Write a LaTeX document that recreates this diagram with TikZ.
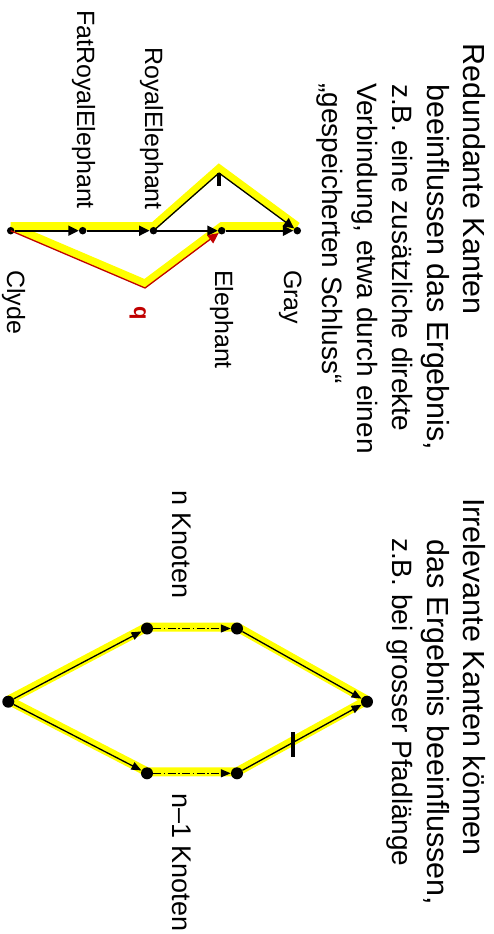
\documentclass[tikz,border=0pt]{standalone}
\usepackage{fontspec}
\setmainfont{Liberation Sans}
\usetikzlibrary{arrows.meta,backgrounds}
\definecolor{hlyellow}{RGB}{255,255,0}
\definecolor{dred}{RGB}{192,0,0}
\begin{document}
\begin{tikzpicture}[x=1pt,y=-1pt,
  txt/.style={rotate=-90, anchor=base west, inner sep=0pt, font=\fontsize{28}{34}\selectfont},
  head/.style={rotate=-90, anchor=base west, inner sep=0pt, font=\fontsize{30.5}{35}\selectfont},
  lbl/.style={rotate=-90, anchor=base west, inner sep=0pt, font=\fontsize{25}{30}\selectfont},
  knlbl/.style={rotate=-90, anchor=base west, inner sep=0pt, font=\fontsize{27}{30}\selectfont},
  sdot/.style={circle, fill=black, inner sep=0pt, minimum size=7.5pt},
  bdot/.style={circle, fill=black, inner sep=0pt, minimum size=12pt},
  arr/.style={-{Triangle[length=10.5pt,width=10pt]}},
  arrs/.style={-{Triangle[length=10pt,width=8pt]}},
  hlt/.style={draw=hlyellow, line width=8pt},
  hltb/.style={draw=hlyellow, line width=9pt},
  thickedge/.style={line width=2pt},
  thinedge/.style={line width=1.3pt},
  tickmark/.style={line width=3.6pt},
  dashdotedge/.style={line width=1.2pt, dash pattern=on 8pt off 2.5pt on 1.5pt off 2.5pt}
]
\useasboundingbox (0,0) rectangle (494,934);

% ---------- left text block ----------
\node[head] (h1) at (463,43) {Redundante Kanten};
\node[head] (h2) at (427,84) {beeinflussen das Ergebnis,};
\node[txt]  (h3) at (392,84) {z.B. eine zusätzliche direkte};
\node[txt]  (h4) at (357,83) {Verbindung, etwa durch einen};
\node[txt]  (h5) at (322,83) {„gespeicherten Schluss“};

% ---------- left graph ----------
\node[sdot] (clyde) at (10.7,230.7) {};
\node[sdot] (fat)   at (82.7,230.7) {};
\node[sdot] (royal) at (153.5,230.7) {};
\node[sdot] (eleph) at (221.7,230.7) {};
\node[sdot] (gray)  at (297.3,230.7) {};
\coordinate (top) at (219,173);
\coordinate (q) at (145,288);

% highlights
\begin{pgfonlayer}{background}
\begin{scope}[transform canvas={yshift=4.5pt}]
  \draw[hlt] (clyde.center) -- (royal.center) -- (top) -- (gray.center);
  \draw[hlt] (clyde.center) -- (q) -- (eleph.center) -- (gray.center);
\end{scope}
\end{pgfonlayer}

\draw[thickedge,arr] (clyde) -- (fat);
\draw[thickedge,arr] (fat) -- (royal);
\draw[thickedge,arr] (royal) -- (eleph);
\draw[thickedge,arr] (eleph) -- (gray);
\draw[thinedge] (royal.center) -- (top);
\draw[thinedge,arr] (top) -- (gray);
\draw[thinedge,dred,arr] (clyde.center) -- (q) -- (eleph);
\draw[tickmark] (top) -- ++(0,13);

\node[lbl] (lfat)   at (77,10)  {FatRoyalElephant};
\node[lbl] (lroyal) at (145,47) {RoyalElephant};
\node[lbl] (lclyde) at (7,270)  {Clyde};
\node[lbl] (leleph) at (215,270) {Elephant};
\node[lbl] (lgray)  at (284,270) {Gray};
\node[rotate=-90, anchor=base west, inner sep=0pt, text=dred, font=\fontsize{22}{26}\selectfont\bfseries] (lq) at (134,306) {q};

% ---------- right text block ----------
\node[head] (r1) at (463,498) {Irrelevante Kanten können};
\node[head] (r2) at (427,539) {das Ergebnis beeinflussen,};
\node[txt]  (r3) at (392,538) {z.B. bei grosser Pfadlänge};

% ---------- right graph ----------
\node[bdot] (L)  at (8.3,701.7) {};
\node[bdot] (U1) at (147,628.5) {};
\node[bdot] (U2) at (237,628.5) {};
\node[bdot] (D1) at (147,773.3) {};
\node[bdot] (D2) at (237,773.3) {};
\node[bdot] (R)  at (367,701.7) {};

\begin{pgfonlayer}{background}
\begin{scope}[transform canvas={yshift=1.5pt}]
  \draw[hltb] (L.center) -- (U1.center) -- (U2.center) -- (R.center);
  \draw[hltb] (L.center) -- (D1.center) -- (D2.center) -- (R.center);
\end{scope}
\end{pgfonlayer}

\draw[thinedge,arrs] (L) -- (U1);
\draw[dashdotedge,arrs] (U1) -- (U2);
\draw[thinedge,arrs] (U2) -- (R);
\draw[thinedge,arrs] (L) -- (D1);
\draw[dashdotedge,arrs] (D1) -- (D2);
\draw[thinedge,arrs] (D2) -- (R);
\coordinate (tk) at (293.3,744.5);
\draw[line width=4pt] (tk) ++(0,-12.5) -- ++(0,25);

\node[knlbl] (kn1) at (172,490) {n Knoten};
\node[knlbl] (kn2) at (172,793) {n–1 Knoten};
\end{tikzpicture}
\end{document}
